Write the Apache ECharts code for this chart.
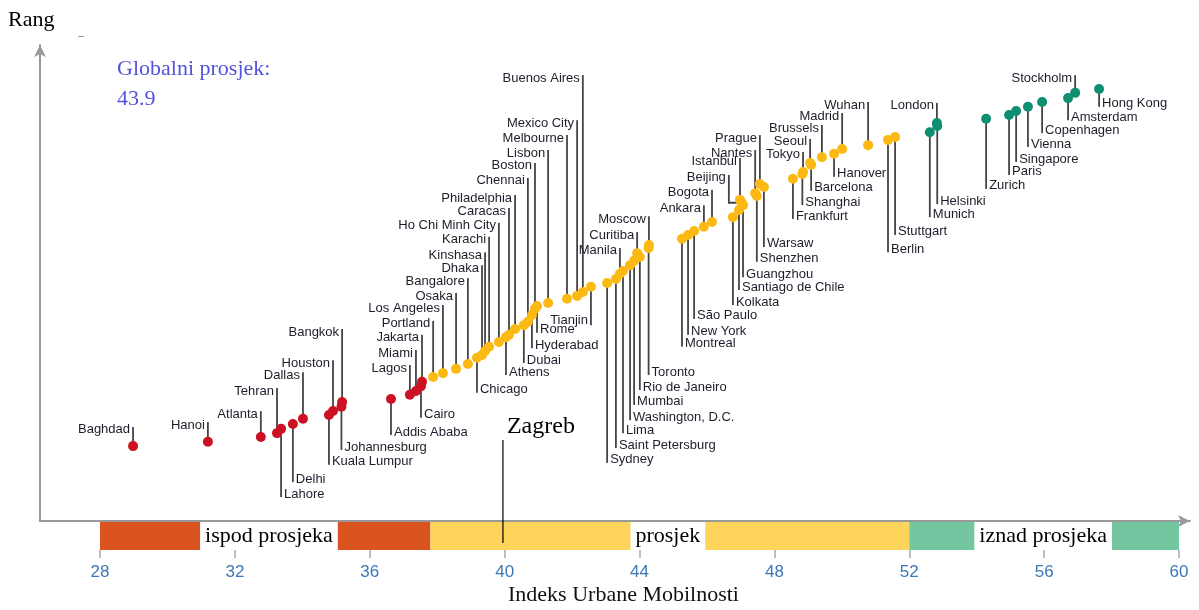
<!DOCTYPE html>
<html>
<head>
<meta charset="utf-8">
<title>Indeks Urbane Mobilnosti</title>
<script src="https://cdn.jsdelivr.net/npm/echarts@6/dist/echarts.min.js"></script>
<style>
html, body { margin: 0; padding: 0; background: #fff; }
#chart { width: 1199px; height: 610px; }
</style>
</head>
<body>
<div id="chart"></div>
<script>
// gradovi, indeks mobilnosti (x), rang (y), visina natpisa i strana natpisa
const cities = ['Baghdad', 'Hanoi', 'Atlanta', 'Tehran', 'Lahore', 'Delhi', 'Dallas', 'Kuala Lumpur', 'Houston', 'Johannesburg',
  'Bangkok', 'Addis Ababa', 'Lagos', 'Miami', 'Cairo', 'Jakarta', 'Portland', 'Los Angeles', 'Osaka', 'Bangalore',
  'Chicago', 'Dhaka', 'Kinshasa', 'Karachi', 'Ho Chi Minh City', 'Athens', 'Caracas', 'Philadelphia', 'Dubai', 'Chennai',
  'Hyderabad', 'Boston', 'Rome', 'Lisbon', 'Melbourne', 'Mexico City', 'Buenos Aires', 'Tianjin', 'Sydney', 'Saint Petersburg',
  'Manila', 'Lima', 'Washington, D.C.', 'Mumbai', 'Curitiba', 'Rio de Janeiro', 'Toronto', 'Moscow', 'Montreal', 'New York',
  'São Paulo', 'Ankara', 'Bogota', 'Kolkata', 'Santiago de Chile', 'Istanbul', 'Beijing', 'Guangzhou', 'Nantes', 'Shenzhen',
  'Prague', 'Warsaw', 'Frankfurt', 'Shanghai', 'Tokyo', 'Seoul', 'Barcelona', 'Brussels', 'Hanover', 'Madrid',
  'Wuhan', 'Berlin', 'Stuttgart', 'Munich', 'London', 'Helsinki', 'Zurich', 'Paris', 'Singapore', 'Vienna',
  'Copenhagen', 'Amsterdam', 'Stockholm', 'Hong Kong'];

const mobility = [28.98, 31.20, 32.77, 33.25, 33.37, 33.72, 34.02, 34.79, 34.91, 35.16,
  35.18, 36.63, 37.19, 37.37, 37.52, 37.55, 37.88, 38.17, 38.56, 38.91,
  39.18, 39.33, 39.42, 39.54, 39.83, 40.04, 40.13, 40.31, 40.57, 40.69,
  40.81, 40.90, 40.96, 41.29, 41.85, 42.15, 42.32, 42.56, 43.04, 43.30,
  43.42, 43.51, 43.72, 43.84, 43.93, 44.01, 44.27, 44.28, 45.26, 45.44,
  45.62, 45.91, 46.15, 46.77, 46.95, 46.98, 47.03, 47.07, 47.43, 47.48,
  47.57, 47.69, 48.55, 48.83, 48.85, 49.06, 49.09, 49.41, 49.77, 50.01,
  50.78, 51.37, 51.58, 52.61, 52.82, 52.83, 54.28, 54.96, 55.17, 55.52,
  55.94, 56.71, 56.92, 57.63];

const rank = [15.6, 16.5, 17.5, 18.3, 19.2, 20.2, 21.3, 22.1, 22.9, 23.8,
  24.8, 25.4, 26.3, 27.1, 28.1, 29.0, 30.0, 30.8, 31.7, 32.7,
  34.0, 34.6, 35.4, 36.3, 37.3, 38.3, 38.8, 40.0, 40.8, 41.5,
  42.9, 44.2, 44.8, 45.4, 46.3, 46.9, 47.7, 48.8, 49.6, 50.4,
  51.5, 52.1, 53.3, 54.2, 55.8, 55.0, 56.9, 57.5, 58.8, 59.6,
  60.4, 61.3, 62.3, 63.3, 64.8, 66.9, 66.3, 65.8, 68.3, 67.7,
  70.2, 69.6, 71.3, 72.3, 72.7, 74.6, 74.2, 75.8, 76.5, 77.5,
  78.3, 79.4, 80.0, 81.0, 82.9, 82.3, 83.8, 84.6, 85.4, 86.3,
  87.3, 88.1, 89.2, 90.0];

const labelRank = [19.6, 20.6, 22.9, 27.7, 5.0, 8.1, 31.0, 11.7, 33.5, 14.8,
  40.0, 17.9, 32.5, 35.6, 21.5, 38.8, 41.7, 45.0, 47.5, 50.6,
  26.7, 53.3, 56.0, 59.2, 62.1, 30.4, 65.2, 67.9, 32.9, 71.5,
  36.0, 74.6, 39.2, 77.3, 80.4, 83.5, 92.9, 40.8, 12.1, 15.2,
  56.9, 18.3, 21.0, 24.2, 60.2, 27.3, 30.4, 63.5, 36.3, 38.8,
  42.1, 65.8, 69.0, 45.0, 48.1, 75.6, 72.1, 50.8, 77.3, 54.0,
  80.4, 57.1, 62.9, 65.8, 76.9, 79.6, 68.8, 82.5, 71.7, 85.0,
  87.3, 56.0, 59.6, 63.3, 87.1, 66.0, 69.2, 72.1, 74.8, 77.9,
  80.8, 83.5, 92.9, 86.3];

const labelSide = ['L', 'L', 'L', 'L', 'R', 'R', 'L', 'R', 'L', 'R',
  'L', 'R', 'L', 'L', 'R', 'L', 'L', 'L', 'L', 'L',
  'R', 'L', 'L', 'L', 'L', 'R', 'L', 'L', 'R', 'L',
  'R', 'L', 'R', 'L', 'L', 'L', 'L', 'LB', 'R', 'R',
  'L', 'R', 'R', 'R', 'L', 'R', 'R', 'L', 'R', 'R',
  'R', 'L', 'L', 'R', 'R', 'L', 'L', 'R', 'L', 'R',
  'L', 'R', 'R', 'R', 'L', 'L', 'R', 'L', 'R', 'L',
  'L', 'R', 'R', 'R', 'L', 'R', 'R', 'R', 'R', 'R',
  'R', 'R', 'L', 'R'];

// Beijing ima lomljenu liniju
const elbowX = { 'Beijing': 46.65 };

const bandEdges = [28, 37.8, 52, 60];
const bandNames = ['ispod prosjeka', 'prosjek', 'iznad prosjeka'];
const bandLabelX = [33.01, 44.84, 55.97];
const bandColors = ['#d9541e', '#ffd45a', '#74c6a0'];
const dotColors = ['#cc1122', '#fdb913', '#0f8f72'];

const globalAvg = 43.9;
const zagreb = { index: 39.95, top: 16.9, bottom: -4.6 };

const chart = echarts.init(document.getElementById('chart'));

function groupOf(v) {
  if (v < bandEdges[1]) return 0;
  if (v < bandEdges[2]) return 1;
  return 2;
}

const cityData = cities.map((c, i) => [mobility[i], rank[i], labelRank[i], i]);

function renderCity(params, api) {
  const i = api.value(3);
  const name = cities[i];
  const p = api.coord([api.value(0), api.value(1)]);
  const lx = elbowX[name] !== undefined ? elbowX[name] : api.value(0);
  const t = api.coord([lx, api.value(2)]);
  const side = labelSide[i];
  const children = [];
  if (elbowX[name] !== undefined) {
    children.push({
      type: 'polyline',
      shape: { points: [p, [t[0], p[1]], t] },
      style: { stroke: '#444', lineWidth: 1.8, fill: null }
    });
  } else {
    children.push({
      type: 'line',
      shape: { x1: p[0], y1: p[1], x2: t[0], y2: t[1] },
      style: { stroke: '#444', lineWidth: 1.8 }
    });
  }
  let tx, ty, align;
  if (side === 'L') { tx = t[0] - 3; ty = t[1] + 3; align = 'right'; }
  else if (side === 'LB') { tx = t[0] - 3; ty = t[1] - 5; align = 'right'; }
  else { tx = t[0] + 3; ty = t[1] - 3; align = 'left'; }
  children.push({
    type: 'text',
    style: {
      text: name, x: tx, y: ty, align: align, verticalAlign: 'middle',
      font: '13px "Liberation Sans", Arial, sans-serif', fill: '#1d1d2b'
    }
  });
  return { type: 'group', children: children };
}

const option = {
  animation: false,
  backgroundColor: '#fff',
  grid: [
    { left: 100, right: 20, top: 41, bottom: 89 },
    { left: 100, right: 20, top: 522, height: 28 },
    { left: 40, right: 9, top: 45, bottom: 89 }
  ],
  xAxis: [
    { gridIndex: 0, type: 'value', min: 28, max: 60, show: false },
    {
      gridIndex: 1, type: 'value', min: 28, max: 60, interval: 4,
      axisLine: { show: false },
      axisTick: { show: true, length: 8, lineStyle: { color: '#aaa', width: 1.5 } },
      splitLine: { show: false },
      axisLabel: { margin: 14, color: '#3b78b5', fontSize: 17, fontFamily: 'Liberation Sans' },
      name: 'Indeks Urbane Mobilnosti',
      nameLocation: 'middle',
      nameGap: 34,
      nameTextStyle: { fontFamily: 'Liberation Serif', fontSize: 22, color: '#111', padding: [0, 32, 0, 0] }
    },
    {
      gridIndex: 2, type: 'value', min: 0, max: 1,
      axisLine: { show: true, symbol: ['none', 'arrow'], symbolSize: [9, 12], lineStyle: { color: '#999', width: 2 } },
      axisTick: { show: false }, axisLabel: { show: false }, splitLine: { show: false }
    }
  ],
  yAxis: [
    { gridIndex: 0, type: 'value', min: 0, max: 100, show: false },
    { gridIndex: 1, type: 'value', min: 0, max: 1, show: false },
    {
      gridIndex: 2, type: 'value', min: 0, max: 1,
      axisLine: { show: true, symbol: ['none', 'arrow'], symbolSize: [9, 12], lineStyle: { color: '#999', width: 2 } },
      axisTick: { show: false }, axisLabel: { show: false }, splitLine: { show: false }
    }
  ],
  graphic: [
    { type: 'text', left: 8, top: 9, style: { text: 'Rang', font: '22px "Liberation Serif"', fill: '#000' } },
    { type: 'rect', left: 78, top: 36, shape: { width: 6, height: 1 }, style: { fill: '#7a9cc6' } },
    {
      type: 'text', left: 117, top: 54,
      style: { text: 'Globalni prosjek:\n' + globalAvg, font: '22px "Liberation Serif"', lineHeight: 30, fill: '#5252dc' }
    }
  ],
  series: [
    {
      // obojena traka ispod osi
      type: 'custom', xAxisIndex: 1, yAxisIndex: 1, z: 1, silent: true,
      data: bandColors.map((c, k) => [bandEdges[k], bandEdges[k + 1], k]),
      renderItem: function (params, api) {
        const s = api.coord([api.value(0), 0]);
        const e = api.coord([api.value(1), 1]);
        return {
          type: 'rect',
          shape: { x: s[0], y: e[1], width: e[0] - s[0], height: s[1] - e[1] },
          style: { fill: bandColors[api.value(2)] }
        };
      }
    },
    {
      type: 'scatter', xAxisIndex: 1, yAxisIndex: 1, z: 2, symbolSize: 0, silent: true,
      data: bandNames.map((n, k) => ({ name: n, value: [bandLabelX[k], 0.5] })),
      itemStyle: { opacity: 1 },
      label: {
        show: true, position: 'inside', formatter: '{b}', opacity: 1,
        fontFamily: 'Liberation Serif', fontSize: 22, color: '#000',
        backgroundColor: '#ffffff', padding: [2, 5], lineHeight: 24
      }
    },
    {
      type: 'custom', xAxisIndex: 0, yAxisIndex: 0, z: 3, clip: false, silent: true,
      data: cityData,
      encode: { x: 0, y: 1 },
      renderItem: renderCity
    },
    {
      type: 'scatter', xAxisIndex: 0, yAxisIndex: 0, z: 4, symbolSize: 10,
      data: cities.map((c, i) => [mobility[i], rank[i]]),
      itemStyle: { opacity: 1, color: p => dotColors[groupOf(p.value[0])] }
    },
    {
      // Zagreb
      type: 'custom', xAxisIndex: 0, yAxisIndex: 0, z: 6, clip: false, silent: true,
      data: [[zagreb.index, zagreb.top, zagreb.bottom]],
      encode: { x: 0, y: 1 },
      renderItem: function (params, api) {
        const t = api.coord([api.value(0), api.value(1)]);
        const b = api.coord([api.value(0), api.value(2)]);
        return {
          type: 'group',
          children: [
            { type: 'line', shape: { x1: t[0], y1: t[1], x2: b[0], y2: b[1] }, style: { stroke: '#000', lineWidth: 1.2 } },
            {
              type: 'text',
              style: { text: 'Zagreb', x: t[0] + 4, y: t[1] - 13, align: 'left', verticalAlign: 'middle', font: '24px "Liberation Serif"', fill: '#000' }
            }
          ]
        };
      }
    }
  ]
};

chart.setOption(option);
</script>
</body>
</html>
